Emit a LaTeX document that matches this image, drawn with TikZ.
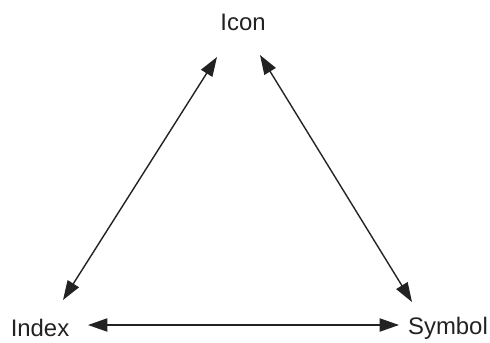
\documentclass[tikz,border=0pt]{standalone}
\usepackage{fontspec}
\setmainfont{Liberation Sans}
\usetikzlibrary{positioning,arrows.meta,calc}
\definecolor{inkgray}{HTML}{222222}

\begin{document}
\begin{tikzpicture}[x=0.02cm, y=-0.02cm]
    \useasboundingbox (0, 0) rectangle (490, 342);
    \tikzset{
        term/.style={inner sep=0pt, text=inkgray, font=\fontsize{13.6}{16}\selectfont},
        dblarrow/.style={{Triangle[length=11pt, width=7.5pt]}-{Triangle[length=11pt, width=7.5pt]}, line width=0.8pt, draw=inkgray}
    }

    \node[term] (icon) at (243, 22) {Icon};
    \node[term] (index) at (40, 328) {Index};
    \node[term] (symbol) at (448, 328) {Symbol};

    \draw[dblarrow] ([shift={(-26, 35)}]icon.center) -- ([shift={(23, -28)}]index.center);
    \draw[dblarrow] ([shift={(17, 33)}]icon.center) -- ([shift={(-36, -26)}]symbol.center);
    \draw[dblarrow] ([shift={(48, -3)}]index.center) -- ([shift={(-49, -3)}]symbol.center);
\end{tikzpicture}
\end{document}
